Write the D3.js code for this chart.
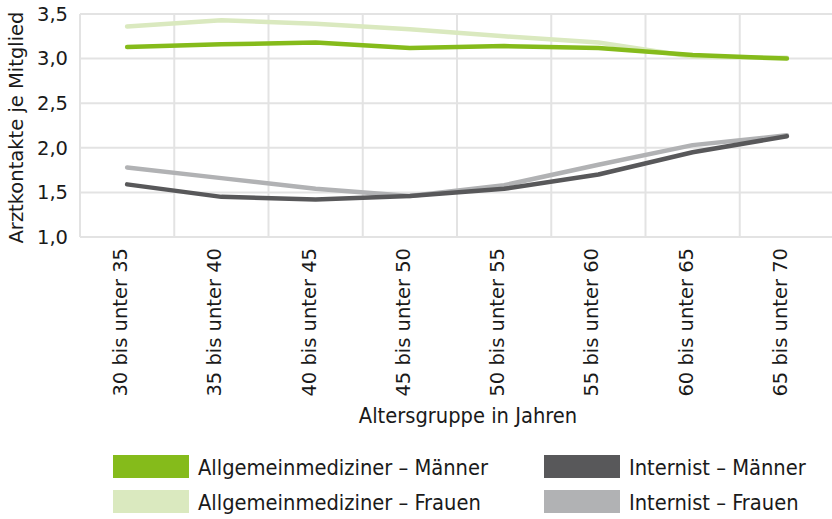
<!DOCTYPE html>
<html>
<head>
<meta charset="utf-8">
<script src="https://cdn.jsdelivr.net/npm/d3@7"></script>
<style>
    body { margin: 0; background: #fff; }
    svg { display: block; }
    .tick text, .ytitle { font-family: "DejaVu Sans", sans-serif; font-size: 19.5px; fill: #1a1a1a; }
    .xtitle, .legend text { font-family: "DejaVu Sans Condensed", "DejaVu Sans", sans-serif; font-size: 21.7px; fill: #1a1a1a; }
    .grid line { stroke: #e3e3e3; stroke-width: 2; }
    .series { fill: none; stroke-width: 4.5; stroke-linejoin: round; stroke-linecap: round; }
</style>
</head>
<body>
<svg id="chart" width="832" height="519"></svg>
<script>

// categories and values
var ageGroups = ['30 bis unter 35', '35 bis unter 40', '40 bis unter 45', '45 bis unter 50',
                 '50 bis unter 55', '55 bis unter 60', '60 bis unter 65', '65 bis unter 70'];

var allgMaenner = [3.13, 3.16, 3.18, 3.12, 3.14, 3.12, 3.04, 3.00];
var allgFrauen  = [3.36, 3.43, 3.39, 3.33, 3.25, 3.18, 3.02, 3.01];
var intMaenner  = [1.59, 1.45, 1.42, 1.46, 1.54, 1.70, 1.95, 2.13];
var intFrauen   = [1.78, 1.66, 1.54, 1.46, 1.58, 1.81, 2.03, 2.14];

var yTicks = [1.0, 1.5, 2.0, 2.5, 3.0, 3.5];

var seriesNames  = ['Allgemeinmediziner – Männer', 'Allgemeinmediziner – Frauen',
                    'Internist – Männer', 'Internist – Frauen'];
var seriesValues = [allgMaenner, allgFrauen, intMaenner, intFrauen];
var seriesColors = ['#85bb1b', '#dae9bf', '#58585a', '#b1b2b4'];

var svg = d3.select('#chart');

// plot area (the right edge runs slightly past the picture, as in the original)
// note: no global named "top", that one belongs to window
var plot = { left: 80, right: 834, top: 14, bottom: 237 };

var x = d3.scaleBand().domain(ageGroups).range([plot.left, plot.right]);
var y = d3.scaleLinear().domain([1.0, 3.5]).range([plot.bottom, plot.top]);

// horizontal grid
var grid = svg.append('g').attr('class', 'grid');
grid.selectAll('line.h')
    .data(yTicks)
    .enter().append('line')
    .attr('class', 'h')
    .attr('x1', plot.left).attr('x2', 832)
    .attr('y1', function(d) { return y(d) })
    .attr('y2', function(d) { return y(d) });

// vertical grid on the category boundaries
grid.selectAll('line.v')
    .data(ageGroups)
    .enter().append('line')
    .attr('class', 'v')
    .attr('x1', function(d) { return x(d) })
    .attr('x2', function(d) { return x(d) })
    .attr('y1', y(3.5)).attr('y2', y(1.0));

// y axis labels
var yAxis = d3.axisLeft(y)
    .tickValues(yTicks)
    .tickSize(0)
    .tickPadding(12)
    .tickFormat(function(d) { return d3.format('.1f')(d).replace('.', ',') });

svg.append('g')
    .attr('transform', 'translate(' + plot.left + ',0)')
    .call(yAxis)
    .call(function(g) { g.select('.domain').remove() });

// x axis labels, rotated
var xAxis = d3.axisBottom(x).tickSize(0);

svg.append('g')
    .attr('transform', 'translate(0,' + plot.bottom + ')')
    .call(xAxis)
    .call(function(g) { g.select('.domain').remove() })
    .selectAll('text')
    .attr('transform', 'rotate(-90)')
    .attr('text-anchor', 'end')
    .attr('x', -11)
    .attr('y', 0)
    .attr('dy', '0');

// axis titles
svg.append('text')
    .attr('class', 'ytitle')
    .attr('transform', 'translate(23,' + ((plot.top + plot.bottom) / 2 + 2) + ') rotate(-90)')
    .attr('text-anchor', 'middle')
    .text('Arztkontakte je Mitglied');

svg.append('text')
    .attr('class', 'xtitle')
    .attr('x', 468)
    .attr('y', 423)
    .attr('text-anchor', 'middle')
    .text('Altersgruppe in Jahren');

// lines: Frauen first so the Männer lines sit on top
var line = d3.line()
    .x(function(d, i) { return x(ageGroups[i]) + x.bandwidth() / 2 })
    .y(function(d) { return y(d) });

var drawOrder = [1, 0, 3, 2];
svg.selectAll('path.series')
    .data(drawOrder)
    .enter().append('path')
    .attr('class', 'series')
    .attr('stroke', function(i) { return seriesColors[i] })
    .attr('d', function(i) { return line(seriesValues[i]) });

// legend, two columns
var legendPos = [[113, 455], [113, 490], [544, 455], [544, 490]];
var legend = svg.append('g').attr('class', 'legend')
    .selectAll('g')
    .data(seriesNames)
    .enter().append('g')
    .attr('transform', function(d, i) { return 'translate(' + legendPos[i][0] + ',' + legendPos[i][1] + ')' });

legend.append('rect')
    .attr('width', 76).attr('height', 23)
    .attr('fill', function(d, i) { return seriesColors[i] });

legend.append('text')
    .attr('x', 85)
    .attr('y', 20)
    .text(function(d) { return d });

</script>
</body>
</html>
